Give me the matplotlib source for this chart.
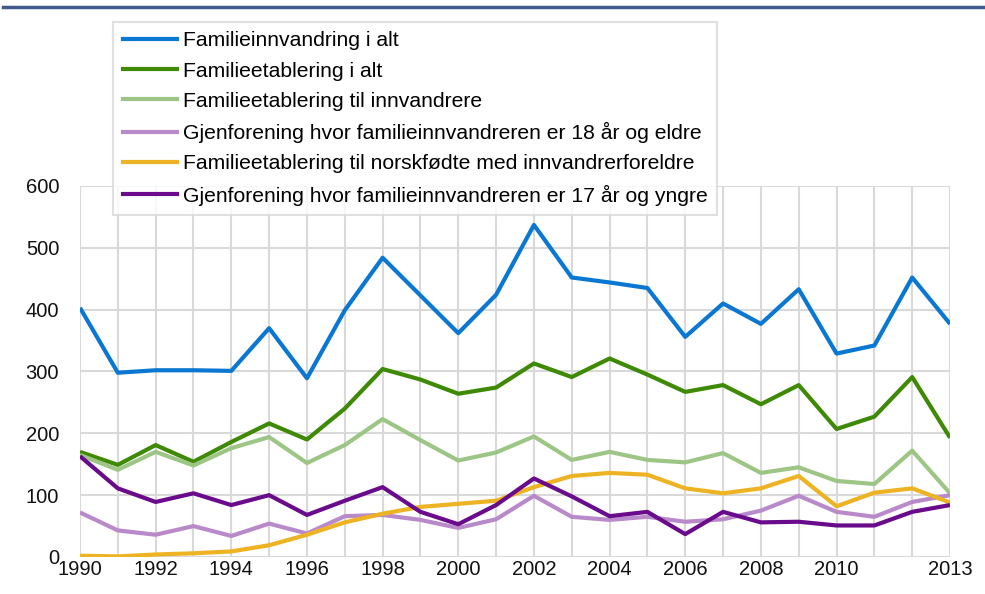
import matplotlib
matplotlib.use("Agg")
import matplotlib.pyplot as plt
from matplotlib.lines import Line2D

plt.rcParams['font.family'] = ['Liberation Sans', 'DejaVu Sans']

years = list(range(1990, 2014))

familieinnvandring_i_alt = [403, 298, 302, 302, 301, 370, 289, 399, 484, 423, 362, 424,
                            537, 452, 444, 435, 356, 410, 377, 433, 329, 342, 452, 377]
familieetablering_i_alt = [170, 149, 181, 154, 186, 216, 190, 240, 304, 287, 264, 274,
                           313, 291, 321, 295, 267, 278, 247, 278, 207, 227, 291, 193]
familieetablering_innvandrere = [165, 141, 170, 148, 176, 194, 152, 181, 223, 189, 156, 169,
                                 195, 157, 170, 157, 153, 168, 136, 145, 123, 118, 172, 103]
gjenforening_18_eldre = [72, 43, 36, 50, 34, 54, 38, 66, 68, 60, 47, 61,
                         99, 65, 60, 65, 57, 61, 75, 99, 73, 65, 89, 100]
familieetablering_norskfodte = [2, 1, 4, 6, 9, 19, 36, 56, 70, 81, 86, 91,
                                113, 131, 136, 133, 111, 103, 111, 131, 82, 104, 111, 88]
gjenforening_17_yngre = [163, 111, 89, 103, 84, 100, 68, 91, 113, 73, 53, 84,
                         127, 98, 66, 73, 37, 73, 56, 57, 51, 51, 73, 84]

series_labels = [
    "Familieinnvandring i alt",
    "Familieetablering i alt",
    "Familieetablering til innvandrere",
    "Gjenforening hvor familieinnvandreren er 18 år og eldre",
    "Familieetablering til norskfødte med innvandrerforeldre",
    "Gjenforening hvor familieinnvandreren er 17 år og yngre",
]
series_values = [familieinnvandring_i_alt, familieetablering_i_alt,
                 familieetablering_innvandrere, gjenforening_18_eldre,
                 familieetablering_norskfodte, gjenforening_17_yngre]
colors = ["#0A78D2", "#3F8A05", "#9DC586", "#B98ACA", "#EDB322", "#6A0B8C"]

xtick_years = [1990, 1992, 1994, 1996, 1998, 2000, 2002, 2004, 2006, 2008, 2010, 2013]
yticks = [0, 100, 200, 300, 400, 500, 600]

fig = plt.figure(figsize=(9.85, 5.94), dpi=100)
ax = fig.add_axes([0.0812, 0.0623, 0.8833, 0.6246])

for vals, lab, c in zip(series_values, series_labels, colors):
    ax.plot(years, vals, color=c, lw=3, label=lab, solid_capstyle='butt', zorder=3)

ax.set_xlim(1990, 2013)
ax.set_ylim(0, 600)
ax.set_xticks(years, minor=False)
ax.set_xticklabels([str(y) if y in xtick_years else "" for y in years])
ax.set_yticks(yticks)
ax.grid(True, color="#D9D9D9", lw=1.5, zorder=0)
for s in ax.spines.values():
    s.set_visible(False)
ax.tick_params(axis='both', length=0, labelsize=14.5, colors='#111111')
ax.tick_params(axis='y', pad=15)
ax.tick_params(axis='x', pad=2)

# top decorative rule
fig.add_artist(Line2D([0.003, 1.0], [1 - 7/594, 1 - 7/594], color="#3F5B8C", lw=2.5,
                      transform=fig.transFigure))

handles = [Line2D([], [], color=c, lw=3) for c in colors]
leg = fig.legend(handles, series_labels, loc='upper left',
                 bbox_to_anchor=(113/985, 1 - 22/594), bbox_transform=fig.transFigure,
                 fontsize=15.2, frameon=True, fancybox=False, handlelength=2.6,
                 handletextpad=0.25, labelspacing=0.53, borderpad=0.45, borderaxespad=0)
leg.get_frame().set_edgecolor("#D9D9D9")
leg.get_frame().set_linewidth(1.5)
leg.set_zorder(10)

fig.savefig("out.png", dpi=100)
